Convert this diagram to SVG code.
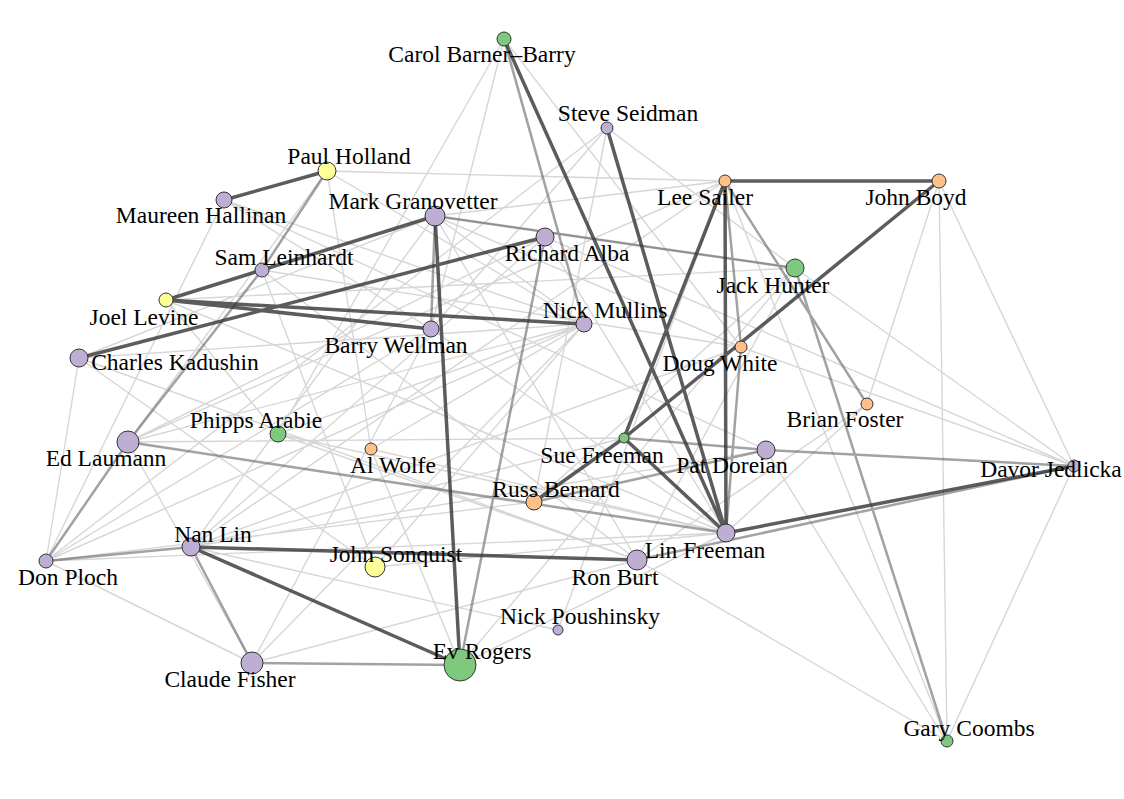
<svg xmlns="http://www.w3.org/2000/svg" width="1124" height="799" viewBox="0 0 1124 799">
<style>
text{font-family:"Liberation Serif",serif;font-size:23.5px;fill:#000;text-anchor:middle}
circle{stroke:#333;stroke-width:1}
.p{fill:#beaed4}.y{fill:#ffff99}.o{fill:#fdc086}.g{fill:#7fc97f}
.d{stroke:#333;stroke-opacity:.8;fill:none;stroke-width:3.5}
.m{stroke:#555;stroke-opacity:.55;fill:none;stroke-width:2.5}
.l{stroke:#777;stroke-opacity:.3;fill:none;stroke-width:1.4}
</style>
<rect width="1124" height="799" fill="#fff"/>
<g id="edges">
<path class="l" d="M504,39L431,329M504,39L741,347M504,39L278,434M607,128L534,502M607,128L795,268M607,128L431,329M327,171L584,324M327,171L128,442M327,171L725,181M224,200L431,329M224,200L584,324M224,200L46,561M435,216L79,358M435,216L584,324M435,216L191,547M435,216L637,560M435,216L725,181M545,237L191,547M545,237L726,533M545,237L128,442M795,268L1074,466M795,268L637,560M795,268L435,216M262,270L637,560M262,270L375,567M166,300L278,434M166,300L726,533M584,324L252,663M584,324L375,567M584,324L46,561M584,324L128,442M431,329L726,533M431,329L252,663M431,329L46,561M79,358L375,567M79,358L584,324M79,358L46,561M741,347L191,547M741,347L1074,466M867,404L726,533M867,404L637,560M278,434L726,533M278,434L584,324M371,449L726,533M371,449L584,324M128,442L725,181M128,442L252,663M624,438L191,547M624,438L128,442M766,450L191,547M766,450L946,741M1074,466L947,741M1074,466L939,181M534,502L46,561M534,502L795,268M191,547L725,181M375,567L726,533M637,560L252,663M558,630L725,181M558,630L191,547M460,665L726,533M460,665L795,268M252,663L46,561M947,741L725,181M947,741L637,560M947,741L939,181M46,561L726,533M435,216L741,347M545,237L1074,466M262,270L741,347M166,300L795,268M79,358L637,560M939,181L867,404M939,181L1074,466M607,128L46,561M327,171L371,449M278,434L637,560M371,449L460,665M224,200L766,450M128,442L584,324"/>
<path class="m" d="M435,216L795,268M504,39L584,324M545,237L460,665M262,270L128,442M128,442L46,561M128,442L726,533M252,663L460,665M725,181L867,404M766,450L1074,466M637,560L1074,466M947,741L795,268M725,181L741,347M534,502L766,450M327,171L262,270M435,216L431,329M46,561L191,547M252,663L191,547M741,347L726,533M624,438L766,450"/>
<path class="d" d="M166,300L584,324M166,300L431,329M435,216L460,665M545,237L79,358M191,547L460,665M191,547L637,560M607,128L726,533M725,181L939,181M725,181L624,438M725,181L726,533M939,181L624,438M624,438L726,533M726,533L1074,466M504,39L726,533M327,171L224,200M262,270L166,300M435,216L262,270M624,438L534,502"/>
</g>
<g id="n1"><circle class="g" cx="504" cy="39" r="7"/><text x="482" y="62">Carol Barner–Barry</text></g>
<g id="n2"><circle class="p" cx="607" cy="128" r="6"/><text x="628" y="121">Steve Seidman</text></g>
<g id="n3"><circle class="y" cx="327" cy="171" r="9"/><text x="349" y="164">Paul Holland</text></g>
<g id="n4"><circle class="o" cx="725" cy="181" r="6"/><text x="705" y="205">Lee Sailer</text></g>
<g id="n5"><circle class="o" cx="939" cy="181" r="7"/><text x="916" y="205">John Boyd</text></g>
<g id="n6"><circle class="p" cx="224" cy="200" r="8"/><text x="201" y="223">Maureen Hallinan</text></g>
<g id="n7"><circle class="p" cx="435" cy="216" r="10"/><text x="413" y="209">Mark Granovetter</text></g>
<g id="n8"><circle class="p" cx="545" cy="237" r="9"/><text x="567" y="261">Richard Alba</text></g>
<g id="n9"><circle class="g" cx="795" cy="268" r="9"/><text x="773" y="293">Jack Hunter</text></g>
<g id="n10"><circle class="p" cx="262" cy="270" r="7"/><text x="284" y="265">Sam Leinhardt</text></g>
<g id="n11"><circle class="y" cx="166" cy="300" r="7"/><text x="144" y="325">Joel Levine</text></g>
<g id="n12"><circle class="p" cx="584" cy="324" r="8"/><text x="605" y="318">Nick Mullins</text></g>
<g id="n13"><circle class="p" cx="431" cy="329" r="8"/><text x="396" y="353">Barry Wellman</text></g>
<g id="n14"><circle class="p" cx="79" cy="358" r="9"/><text x="175" y="370">Charles Kadushin</text></g>
<g id="n15"><circle class="o" cx="741" cy="347" r="6"/><text x="720" y="371">Doug White</text></g>
<g id="n16"><circle class="o" cx="867" cy="404" r="6"/><text x="845" y="427">Brian Foster</text></g>
<g id="n17"><circle class="g" cx="278" cy="434" r="8"/><text x="256" y="428">Phipps Arabie</text></g>
<g id="n18"><circle class="o" cx="371" cy="449" r="6"/><text x="393" y="473">Al Wolfe</text></g>
<g id="n19"><circle class="p" cx="128" cy="442" r="11"/><text x="106" y="466">Ed Laumann</text></g>
<g id="n20"><circle class="g" cx="624" cy="438" r="5"/><text x="602" y="463">Sue Freeman</text></g>
<g id="n21"><circle class="p" cx="766" cy="450" r="9"/><text x="732" y="473">Pat Doreian</text></g>
<g id="n22"><circle class="p" cx="1074" cy="466" r="6"/><text x="1051" y="477">Davor Jedlicka</text></g>
<g id="n23"><circle class="o" cx="534" cy="502" r="8"/><text x="556" y="497">Russ Bernard</text></g>
<g id="n24"><circle class="p" cx="46" cy="561" r="7"/><text x="68" y="585">Don Ploch</text></g>
<g id="n25"><circle class="p" cx="191" cy="547" r="9"/><text x="213" y="542">Nan Lin</text></g>
<g id="n26"><circle class="y" cx="375" cy="567" r="10"/><text x="396" y="562">John Sonquist</text></g>
<g id="n27"><circle class="p" cx="726" cy="533" r="9"/><text x="705" y="558">Lin Freeman</text></g>
<g id="n28"><circle class="p" cx="637" cy="560" r="10"/><text x="615" y="585">Ron Burt</text></g>
<g id="n29"><circle class="p" cx="558" cy="630" r="5"/><text x="580" y="624">Nick Poushinsky</text></g>
<g id="n30"><circle class="g" cx="460" cy="665" r="16"/><text x="482" y="659">Ev Rogers</text></g>
<g id="n31"><circle class="p" cx="252" cy="663" r="11"/><text x="230" y="687">Claude Fisher</text></g>
<g id="n32"><circle class="g" cx="947" cy="741" r="6"/><text x="969" y="736">Gary Coombs</text></g>
</svg>
